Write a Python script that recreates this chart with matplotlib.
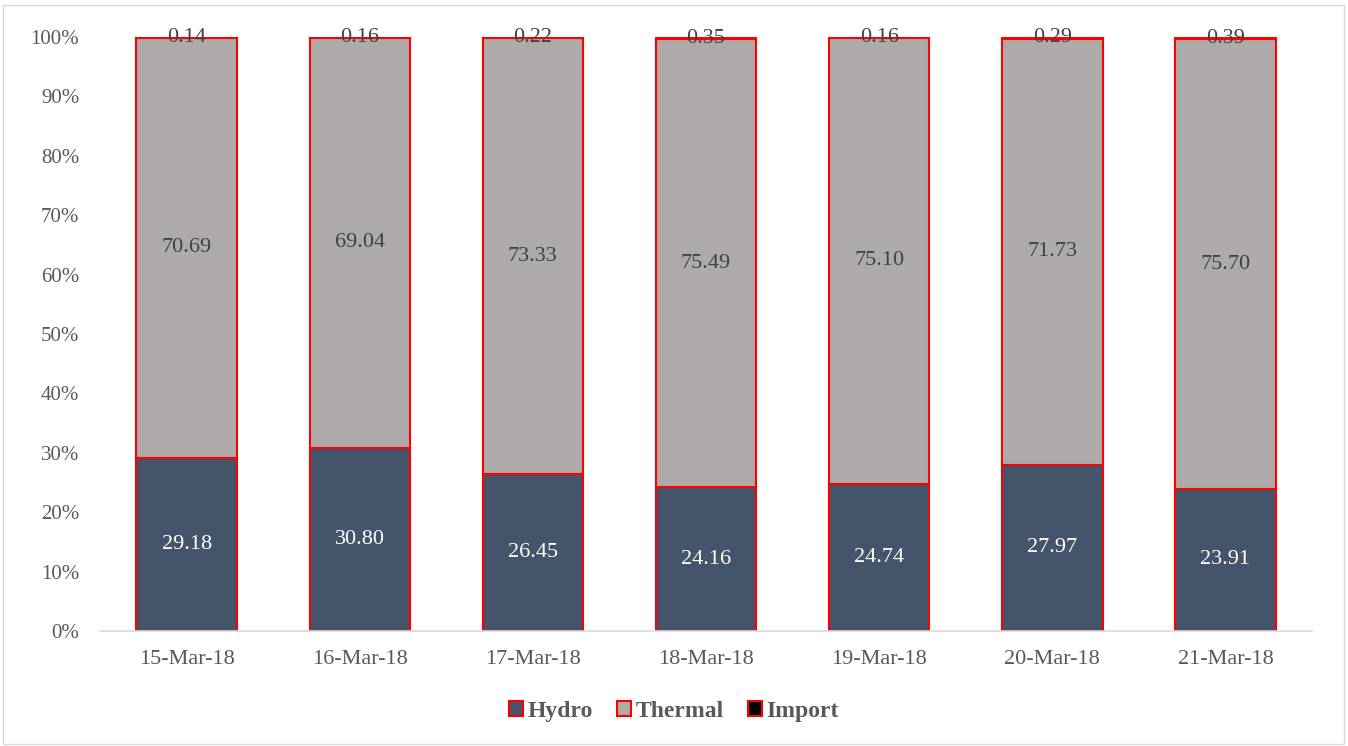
import matplotlib.pyplot as plt
import numpy as np
from matplotlib.patches import Rectangle

dates = ['15-Mar-18', '16-Mar-18', '17-Mar-18', '18-Mar-18',
         '19-Mar-18', '20-Mar-18', '21-Mar-18']
hydro = [29.18, 30.80, 26.45, 24.16, 24.74, 27.97, 23.91]
thermal = [70.69, 69.04, 73.33, 75.49, 75.10, 71.73, 75.70]
imports = [0.14, 0.16, 0.22, 0.35, 0.16, 0.29, 0.39]


def main():
    plt.rcParams['font.family'] = ['Liberation Serif', 'DejaVu Serif']

    fig = plt.figure(figsize=(13.48, 7.46), dpi=100)
    ax = fig.add_axes([0.0742, 0.1542, 0.8991, 0.7962])

    h = np.array(hydro)
    t = np.array(thermal)
    im = np.array(imports)
    tot = h + t + im
    hp = h / tot * 100
    tp = t / tot * 100
    ip = im / tot * 100

    x = np.arange(len(dates))
    w = 0.58
    b1 = ax.bar(x, hp, w, color='#44546A', edgecolor='red', linewidth=1.5, label='Hydro')
    b2 = ax.bar(x, tp, w, bottom=hp, color='#AEAAAA', edgecolor='red', linewidth=1.5, label='Thermal')
    b3 = ax.bar(x, ip, w, bottom=hp + tp, color='black', edgecolor='red', linewidth=1.5, label='Import')

    for i in range(len(dates)):
        ax.text(x[i], hp[i] / 2, '%.2f' % hydro[i], ha='center', va='center',
                color='white', fontsize=16)
        ax.text(x[i], hp[i] + tp[i] / 2, '%.2f' % thermal[i], ha='center', va='center',
                color='#404040', fontsize=16)
        ax.text(x[i], hp[i] + tp[i] + ip[i] / 2, '%.2f' % imports[i], ha='center', va='center',
                color='#404040', fontsize=16)

    ax.set_xlim(-0.5, len(dates) - 0.5)
    ax.set_ylim(0, 100)
    ax.set_yticks(np.arange(0, 101, 10))
    ax.set_yticklabels(['%d%%' % v for v in range(0, 101, 10)])
    ax.set_xticks(x)
    ax.set_xticklabels(dates)
    ax.tick_params(axis='x', length=0, labelsize=16, colors='#595959', pad=14)
    ax.tick_params(axis='y', length=0, labelsize=15, colors='#595959', pad=15)
    for s in ['top', 'right', 'left']:
        ax.spines[s].set_visible(False)
    ax.spines['bottom'].set_color('#D9D9D9')
    ax.spines['bottom'].set_linewidth(1.2)

    leg = fig.legend(handles=[b1, b2, b3], loc='center', bbox_to_anchor=(0.5, 0.046),
                     ncol=3, frameon=False, handlelength=0.6, handleheight=0.6,
                     handletextpad=0.2, columnspacing=1.0,
                     prop={'size': 17, 'weight': 'bold'})
    for txt in leg.get_texts():
        txt.set_color('#595959')

    fig.patches.append(Rectangle((0.002, 0.003), 0.995, 0.99, transform=fig.transFigure,
                                 fill=False, edgecolor='#D9D9D9', linewidth=1))

    fig.savefig('out.png', dpi=100)


if __name__ == '__main__':
    main()
